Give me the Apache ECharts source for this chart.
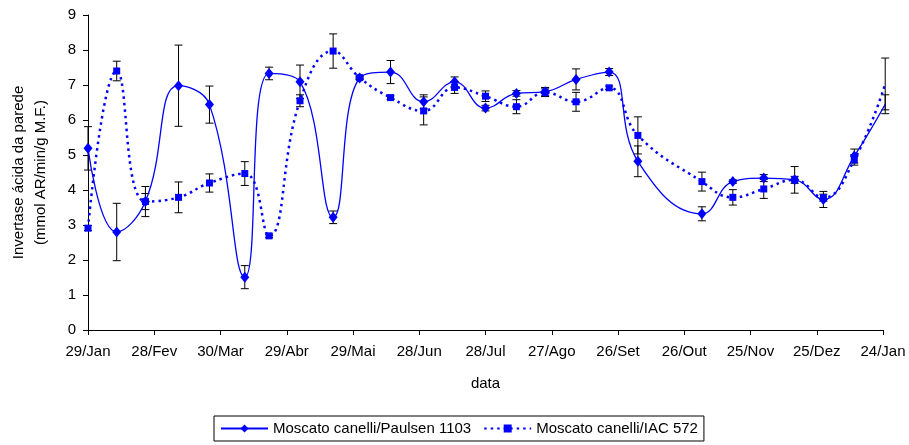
<!DOCTYPE html>
<html>
<head>
<meta charset="utf-8">
<script src="https://cdn.jsdelivr.net/npm/echarts@6/dist/echarts.min.js"></script>
<style>
html,body{margin:0;padding:0;background:#fff;}
#chart{width:909px;height:445px;}
</style>
</head>
<body>
<div id="chart"></div>
<script>
// ---- data ----
var startDate = '2002-01-29';
var dates = ['2002-01-29','2002-02-11','2002-02-24','2002-03-11','2002-03-25','2002-04-10','2002-04-21','2002-05-05','2002-05-20','2002-06-01','2002-06-15','2002-06-30','2002-07-14','2002-07-28','2002-08-11','2002-08-24','2002-09-07','2002-09-22','2002-10-05','2002-11-03','2002-11-17','2002-12-01','2002-12-15','2002-12-28','2003-01-11','2003-01-25'];
var paulsen = [5.19,2.80,3.67,6.98,6.44,1.51,7.33,7.09,3.22,7.20,7.37,6.52,7.09,6.34,6.76,6.81,7.16,7.37,4.82,3.32,4.24,4.34,4.29,3.73,4.97,6.45];
var paulsenErr = [0.62,0.82,0.43,1.16,0.53,0.33,0.18,0.48,0.18,0.05,0.33,0.2,0.14,0.08,0.08,0.12,0.3,0.1,0.44,0.2,0.05,0.1,0.38,0.23,0.2,0.27];
var iac = [2.91,7.40,3.67,3.79,4.20,4.47,2.69,6.55,7.97,7.21,6.64,6.26,6.93,6.68,6.38,6.79,6.52,6.92,5.56,4.24,3.79,4.03,4.29,3.78,4.86,7.03];
var iacErr = [0.07,0.28,0.23,0.44,0.26,0.34,0.05,0.17,0.49,0.05,0.05,0.4,0.17,0.15,0.2,0.12,0.27,0.05,0.53,0.27,0.22,0.27,0.1,0.1,0.15,0.74];
var xTickLabels = ['29/Jan','28/Fev','30/Mar','29/Abr','29/Mai','28/Jun','28/Jul','27/Ago','26/Set','26/Out','25/Nov','25/Dez','24/Jan'];
var seriesNames = ['Moscato canelli/Paulsen 1103','Moscato canelli/IAC 572'];
var yName = 'Invertase ácida da parede\n(mmol AR/min/g M.F.)';
var xName = 'data';

// ---- build ----
function dayOffset(s){
  var p = s.split('-'), q = startDate.split('-');
  return Math.round((Date.UTC(+p[0],+p[1]-1,+p[2]) - Date.UTC(+q[0],+q[1]-1,+q[2]))/86400000);
}
var days = dates.map(dayOffset);
function pts(vals){ return vals.map(function(v,i){ return [days[i], v]; }); }
function errs(vals, e){ return vals.map(function(v,i){ return [days[i], v - e[i], v + e[i]]; }); }

var FONT = 'Liberation Sans, Arial, sans-serif';
var BLUE = '#0000FF';

function errRender(params, api){
  var x = api.value(0);
  var lo = api.coord([x, api.value(1)]);
  var hi = api.coord([x, api.value(2)]);
  var w = 4;
  var st = {stroke:'#000', lineWidth:1};
  return {type:'group', children:[
    {type:'line', shape:{x1:lo[0],y1:lo[1],x2:hi[0],y2:hi[1]}, style:st},
    {type:'line', shape:{x1:lo[0]-w,y1:lo[1],x2:lo[0]+w,y2:lo[1]}, style:st},
    {type:'line', shape:{x1:hi[0]-w,y1:hi[1],x2:hi[0]+w,y2:hi[1]}, style:st}
  ]};
}

var chart = echarts.init(document.getElementById('chart'), null, {renderer:'canvas'});
chart.setOption({
  backgroundColor:'#fff',
  animation:false,
  textStyle:{fontFamily:FONT},
  grid:{left:85, right:26, top:15, bottom:115, containLabel:false},
  legend:{
    left:214, top:416, width:540,
    data:seriesNames,
    itemWidth:47, itemHeight:10, itemGap:12,
    borderColor:'#000', borderWidth:1, borderRadius:0,
    padding:[5,6,5,6],
    textStyle:{fontFamily:FONT, fontSize:15, color:'#000'}
  },
  xAxis:{
    type:'value', min:0, max:360, interval:30,
    name:xName, nameLocation:'middle', nameGap:46,
    nameTextStyle:{fontFamily:FONT, fontSize:15, color:'#000'},
    axisLine:{lineStyle:{color:'#000', width:1}},
    axisTick:{show:true, length:5, inside:false, lineStyle:{color:'#000'}},
    splitLine:{show:false},
    axisLabel:{color:'#000', fontFamily:FONT, fontSize:15, margin:14,
      formatter:function(v){ var i = Math.round(v/30); return xTickLabels[i] || ''; }}
  },
  yAxis:{
    type:'value', min:0, max:9, interval:1,
    name:yName, nameLocation:'middle', nameGap:36, nameRotate:90,
    nameTextStyle:{fontFamily:FONT, fontSize:15, color:'#000', lineHeight:22, align:'center'},
    axisLine:{show:true, lineStyle:{color:'#000', width:1}},
    axisTick:{show:true, length:5, lineStyle:{color:'#000'}},
    splitLine:{show:false},
    axisLabel:{color:'#000', fontFamily:FONT, fontSize:15, margin:12}
  },
  series:[
    {type:'custom', name:'errP', renderItem:errRender, data:errs(paulsen, paulsenErr), z:3, silent:true,
     encode:{x:0, y:[1,2]}},
    {type:'custom', name:'errI', renderItem:errRender, data:errs(iac, iacErr), z:3, silent:true,
     encode:{x:0, y:[1,2]}},
    {type:'line', name:seriesNames[0], data:pts(paulsen), smooth:0.45,
     symbol:'diamond', symbolSize:[9,11], showAllSymbol:true,
     itemStyle:{color:BLUE}, lineStyle:{color:BLUE, width:1.3, type:'solid'}, z:4},
    {type:'line', name:seriesNames[1], data:pts(iac), smooth:0.45,
     symbol:'rect', symbolSize:7, showAllSymbol:true,
     itemStyle:{color:BLUE}, lineStyle:{color:BLUE, width:2.5, type:[2.5,4]}, z:5}
  ]
});
</script>
</body>
</html>
